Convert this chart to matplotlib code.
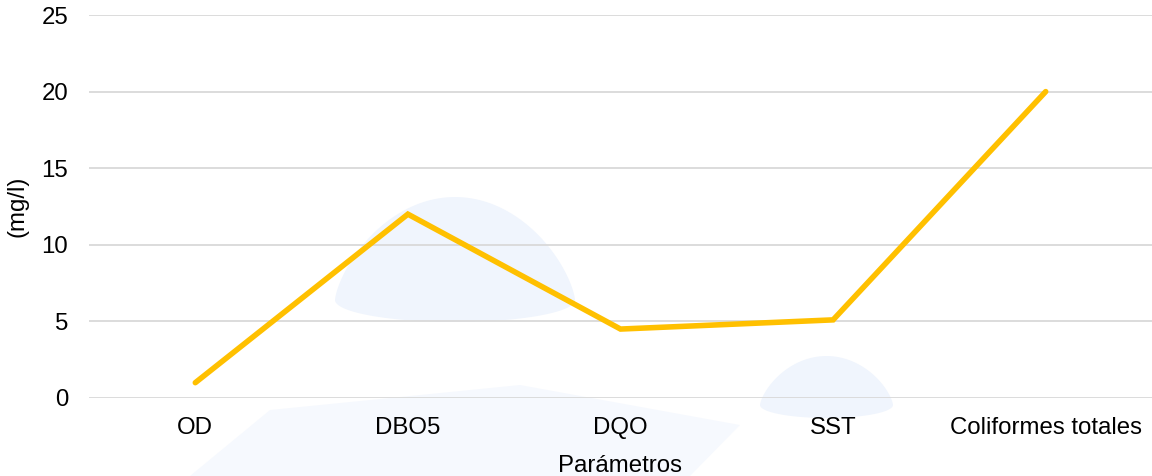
import matplotlib.pyplot as plt
import numpy as np
from matplotlib.patches import Polygon

parametros = ['OD', 'DBO5', 'DQO', 'SST', 'Coliformes totales']
valores = [1, 12, 4.5, 5.1, 20]
yticks = [0, 5, 10, 15, 20, 25]

plt.rcParams['font.family'] = ['Liberation Sans', 'DejaVu Sans']

W, H = 1152, 476
fig = plt.figure(figsize=(W / 100, H / 100), dpi=100)
ax = fig.add_axes([89 / W, 1 - 398 / H, 1 - 89 / W, (398 - 15) / H])
ax.set_zorder(1)
ax.patch.set_alpha(0)


def dome(x0, x1, ytop, ybase, sag, color, n=80):
    # watermark blob: bell-shaped top, slightly sagging base (pixel coords from top-left)
    t = np.linspace(0, np.pi, n)
    xm = (x0 + x1) / 2
    hw = (x1 - x0) / 2
    top_x = xm - hw * np.cos(t)
    top_y = ybase - (ybase - ytop) * np.sin(t) ** 1.4
    bot_x = top_x[::-1]
    bot_y = ybase + sag * np.sin(t)
    xs = np.concatenate([top_x, bot_x]) / W
    ys = 1 - np.concatenate([top_y, bot_y]) / H
    return Polygon(np.column_stack([xs, ys]), closed=True, transform=fig.transFigure,
                   facecolor=color, edgecolor='none', zorder=0)


fig.patches.append(dome(335, 575, 197, 300, 22, '#F0F5FD'))
fig.patches.append(dome(760, 893, 356, 405, 13, '#F0F5FD'))
fig.patches.append(Polygon([[190 / W, 0], [270 / W, 1 - 410 / H], [520 / W, 1 - 385 / H],
                            [740 / W, 1 - 425 / H], [690 / W, 0]], closed=True,
                           transform=fig.transFigure, facecolor='#F6F9FE',
                           edgecolor='none', zorder=0))

x = np.arange(len(parametros))
ax.plot(x, valores, color='#FFC000', linewidth=4, solid_capstyle='round',
        solid_joinstyle='miter', zorder=3)

ax.set_xlim(-0.5, len(parametros) - 0.5)
ax.set_ylim(0, 25)
ax.set_yticks(yticks)
ax.set_xticks(x)
ax.set_xticklabels(parametros)
ax.yaxis.grid(True, color='#D9D9D9', linewidth=1.3)
ax.set_axisbelow(True)
for s in ax.spines.values():
    s.set_visible(False)
ax.tick_params(axis='both', length=0, labelsize=17.3, colors='black')
ax.tick_params(axis='y', pad=15)
ax.tick_params(axis='x', pad=14)
ax.set_xlabel('Parámetros', fontsize=17.3, labelpad=11)
ax.set_ylabel('(mg/l)', fontsize=17.3, labelpad=9)

fig.savefig('out.png', dpi=100)
